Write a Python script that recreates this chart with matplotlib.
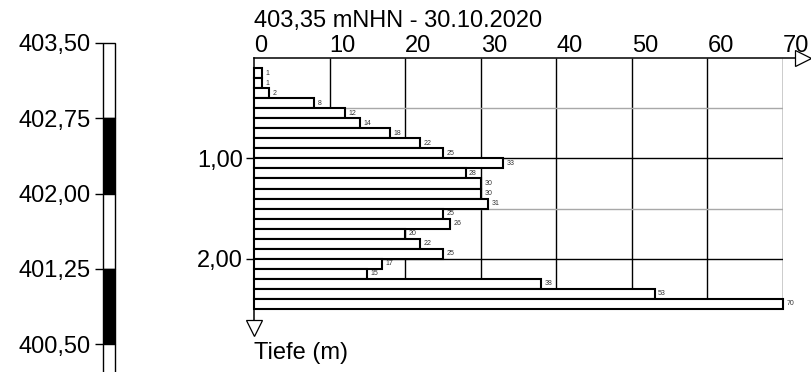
import matplotlib
matplotlib.use("Agg")
import matplotlib.pyplot as plt
from matplotlib.ticker import FuncFormatter

plt.rcParams["font.family"] = ["Liberation Sans", "DejaVu Sans"]

# ── Daten ────────────────────────────────────────────────────────────────────
TITLE = "403,35 mNHN - 30.10.2020"
Z_TOP = 403.35                      # Ansatzhöhe (mNHN)

depth_from = [0.1, 0.2, 0.3, 0.4, 0.5, 0.6, 0.7, 0.8, 0.9, 1.0, 1.1, 1.2,
              1.3, 1.4, 1.5, 1.6, 1.7, 1.8, 1.9, 2.0, 2.1, 2.2, 2.3, 2.4]
blows = [1, 1, 2, 8, 12, 14, 18, 22, 25, 33, 28, 30,
         30, 31, 25, 26, 20, 22, 25, 17, 15, 38, 53, 70]
bin_h = 0.1

x_ticks = [0, 10, 20, 30, 40, 50, 60, 70]
depth_ticks = [1.0, 2.0]
grid_major = [1.0, 2.0]
grid_minor = [0.5, 1.5]
grid_depth = 2.4

elev_ticks = [403.50, 402.75, 402.00, 401.25, 400.50]
strip_top = [403.50, 402.75, 402.00, 401.25, 400.50]
strip_bot = [402.75, 402.00, 401.25, 400.50, 399.75]
strip_col = ["white", "black", "white", "black", "white"]

# ── Layout (Pixel) ───────────────────────────────────────────────────────────
W, H = 811, 372
x0_px, x70_px = 254, 783
top_px, bot_px = 58, 309
y_max = 2.5
FS = 17
px_per_m = (bot_px - top_px) / y_max

comma = FuncFormatter(lambda v, _: f"{v:.2f}".replace(".", ","))

fig = plt.figure(figsize=(W / 100, H / 100), dpi=100)
pos_y = 1 - bot_px / H
pos_h = (bot_px - top_px) / H
ax = fig.add_axes([x0_px / W, pos_y, (x70_px - x0_px) / W, pos_h])
for s in ax.spines.values():
    s.set_visible(False)

# Raster
ax.vlines(x_ticks[1:], 0, grid_depth, color="black", lw=1.0, zorder=1)
ax.hlines(grid_minor, 0, 70, color="#a8a8a8", lw=1.0, zorder=1)
ax.hlines(grid_major, 0, 70, color="black", lw=1.0, zorder=1)

# Balken
centers = [d + bin_h / 2 for d in depth_from]
ax.barh(centers, blows, height=bin_h, left=0, color="white",
        edgecolor="black", lw=1.5, zorder=2, clip_on=False)
for c, v in zip(centers, blows):
    ax.annotate(str(v), (v, c), xytext=(2.5, 0), textcoords="offset points",
                fontsize=5, va="center", ha="left", color="#333333",
                annotation_clip=False)

# Achsen mit Pfeilen
ax.plot([0, 71.9], [0, 0], color="black", lw=1.1, zorder=3, clip_on=False)
ax.plot([0, 0], [0, 2.62], color="black", lw=1.1, zorder=3, clip_on=False)
ax.plot([72.6], [0], marker=">", ms=11, mfc="white", mec="black", mew=0.9,
        clip_on=False, zorder=4)
ax.plot([0], [2.69], marker="v", ms=11, mfc="white", mec="black", mew=0.9,
        clip_on=False, zorder=4)

ax.xaxis.tick_top()
ax.set_xticks(x_ticks)
ax.set_xticklabels([str(t) for t in x_ticks], ha="left")
ax.tick_params(axis="x", length=0, pad=1, labelsize=FS)
ax.set_yticks(depth_ticks)
ax.yaxis.set_major_formatter(comma)
ax.tick_params(axis="y", length=6, width=1.0, pad=2, labelsize=FS)
ax.set_xlim(0, 70)
ax.set_ylim(y_max, 0)

ax.annotate(TITLE, (0, 1), xycoords="axes fraction", xytext=(0, 22.5),
            textcoords="offset points", fontsize=FS, ha="left", va="baseline")
ax.annotate("Tiefe (m)", (0, 0), xycoords="axes fraction", xytext=(0, -36),
            textcoords="offset points", fontsize=FS, ha="left", va="baseline")

# ── Schichtstreifen links (gleicher Höhenmaßstab) ────────────────────────────
s_top_px, s_bot_px = 36, H
axs = fig.add_axes([103 / W, 1 - s_bot_px / H, 12 / W, (s_bot_px - s_top_px) / H])
for s in axs.spines.values():
    s.set_visible(False)
axs.bar([0.5] * len(strip_top), [t - b for t, b in zip(strip_top, strip_bot)],
        bottom=strip_bot, width=1, color=strip_col, edgecolor="black",
        lw=1.0, clip_on=False)
axs.set_xticks([])
axs.set_yticks(elev_ticks)
axs.yaxis.set_major_formatter(comma)
axs.tick_params(axis="y", length=6, width=1.0, pad=3, labelsize=FS)
axs.set_xlim(0, 1)
axs.set_ylim(Z_TOP - (s_bot_px - top_px) / px_per_m,
             Z_TOP + (top_px - s_top_px) / px_per_m)

fig.savefig("out.png", dpi=100)
